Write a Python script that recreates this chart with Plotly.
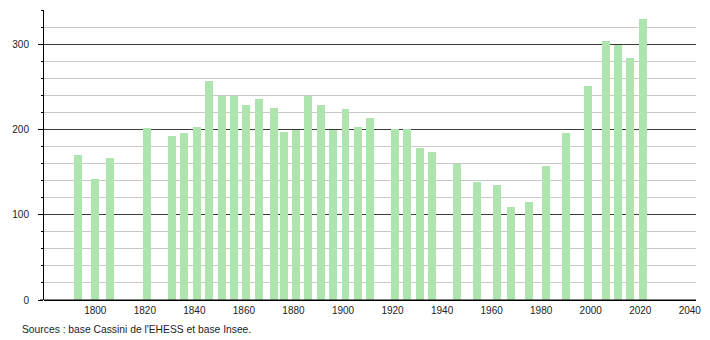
import plotly.graph_objects as go

years = [1793, 1800, 1806, 1821, 1831, 1836, 1841, 1846, 1851, 1856, 1861, 1866,
         1872, 1876, 1881, 1886, 1891, 1896, 1901, 1906, 1911, 1921, 1926, 1931,
         1936, 1946, 1954, 1962, 1968, 1975, 1982, 1990, 1999, 2006, 2011, 2016, 2021]
population = [170, 142, 167, 202, 193, 196, 203, 258, 240, 240, 229, 236,
              226, 198, 200, 240, 229, 200, 225, 203, 214, 201, 201, 179,
              174, 160, 139, 135, 109, 115, 157, 196, 252, 305, 300, 285, 331]
x_ticks = [1800, 1820, 1840, 1860, 1880, 1900, 1920, 1940, 1960, 1980, 2000, 2020, 2040]
source_text = "Sources : base Cassini de l'EHESS et base Insee."

fig = go.Figure()
fig.add_trace(go.Bar(
    x=years, y=population, width=3.2,
    marker=dict(color="#aee4ae", line=dict(width=0)),
    hoverinfo="x+y",
))

fig.update_layout(
    width=710, height=340,
    margin=dict(l=44, r=9, t=10, b=40),
    paper_bgcolor="white", plot_bgcolor="white",
    font=dict(family="Liberation Sans, Arial, sans-serif", size=10, color="#222"),
    showlegend=False,
    bargap=0,
)
fig.update_xaxes(
    range=[1779.3, 2042.5],
    tickvals=x_ticks, ticktext=[str(t) for t in x_ticks],
    showgrid=False, zeroline=False,
    showline=False, ticks="", ticklabelstandoff=3,
    tickfont=dict(size=10, color="#222"),
)
fig.update_yaxes(
    range=[0, 341],
    tickvals=[0, 100, 200, 300],
    showgrid=True, gridcolor="#3a3a3a", gridwidth=1,
    zeroline=True, zerolinecolor="#000", zerolinewidth=1,
    showline=True, linecolor="#000", linewidth=1,
    ticks="outside", ticklen=5, tickcolor="#000",
    ticklabelstandoff=7,
    tickfont=dict(size=10, color="#222"),
    minor=dict(dtick=20, showgrid=True, gridcolor="#c8c8c8", gridwidth=1,
               ticks="outside", ticklen=2, tickcolor="#000"),
)
# extend the baseline across the full width
fig.add_shape(type="line", xref="paper", yref="y", x0=-4/657, x1=1, y0=0, y1=0,
              line=dict(color="#000", width=1), layer="above")
fig.add_annotation(
    text=source_text, xref="paper", yref="paper",
    x=(20 - 44) / 657, y=(300 - 329) / 290, xanchor="left", yanchor="middle",
    showarrow=False, font=dict(size=10.3, color="#222"),
)

fig.write_html("out.html")
